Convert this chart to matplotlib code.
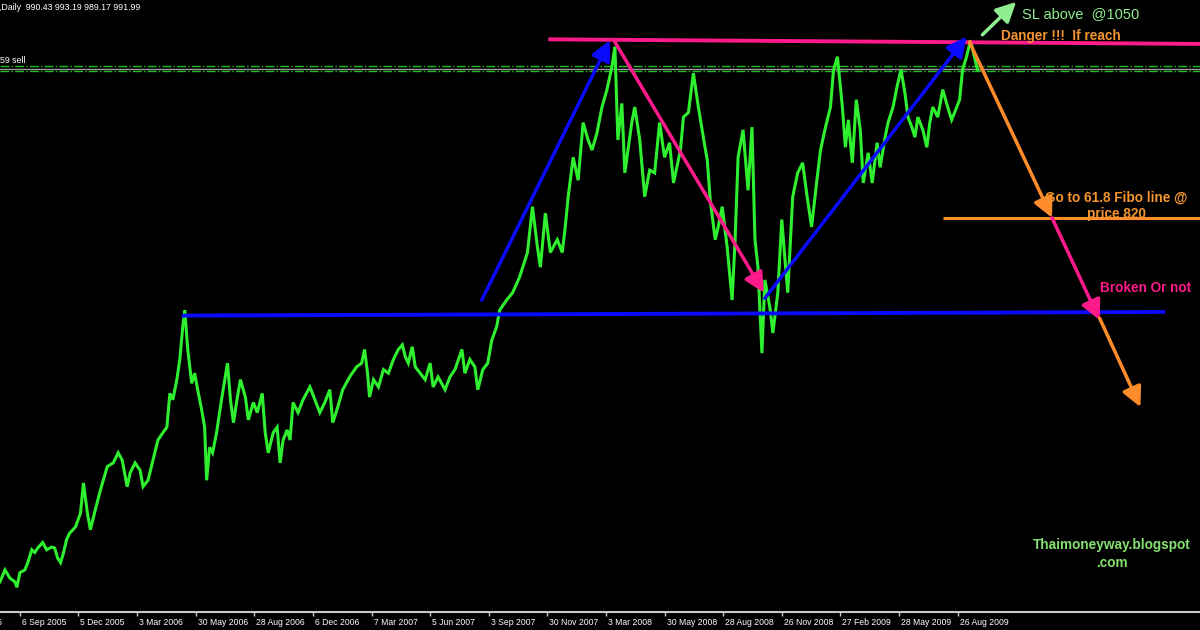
import matplotlib
matplotlib.use('Agg')
import matplotlib.pyplot as plt
import matplotlib.transforms as mtransforms

# daily bars (bar number, price)
bar_idx = [0, 5, 10, 15, 17, 20, 25, 28, 32, 35, 38, 43, 47, 52, 55, 58, 61, 64, 67, 70,
           76, 81, 84, 88, 91, 96, 101, 108, 114, 119, 123, 128, 131, 136, 141, 144, 149, 154, 159, 164,
           168, 171, 174, 178, 181, 184, 186, 189, 193, 196, 199, 203, 206, 208, 211, 214, 218, 223,
           229, 232, 235, 239, 242, 247, 250, 255, 259, 264, 267, 270, 275, 279, 282, 285, 289, 292,
           295, 300, 305, 312, 317, 322, 327, 332, 335, 340, 345, 352, 359, 364, 367, 370, 372,
           376, 381, 386, 391, 396, 401, 405, 408, 411, 415, 418, 423, 428, 433, 436, 441, 448, 453,
           458, 465, 468, 473, 478, 481, 486, 491, 495, 500, 503, 510, 516, 523,
           531, 536, 541, 544, 549, 554, 561, 566, 569, 572, 577, 582, 587, 592, 596, 601, 606, 611,
           616, 619, 622, 626, 629, 636, 639, 644, 649, 654, 659, 664, 669, 674,
           678, 685, 688, 693, 698, 703, 708, 712, 715, 720, 723, 727, 732, 737, 740, 743, 748, 753,
           757, 760, 763, 767, 770, 775, 778, 783, 787, 790, 793, 798, 803, 808, 812, 817, 822,
           826, 831, 836, 839, 843, 848, 851, 854, 858, 862, 866, 869, 874, 878, 883, 886, 891, 894,
           899, 903, 907, 911, 914, 918, 921, 924, 929, 933, 936, 939, 944, 949, 954, 958, 961, 966,
           969, 973, 977, 980, 984]
price = [434, 447, 438, 434, 428, 444, 447, 455, 469, 466, 471, 477, 469, 472, 471, 460, 455, 466, 480, 487,
         494, 509, 542, 509, 491, 513, 534, 560, 564, 575, 567, 538, 553, 564, 556, 538, 545, 567, 589, 597,
         603, 640, 633, 655, 677, 713, 731, 688, 651, 662, 644, 622, 603, 545, 581, 575, 597, 633,
         673, 633, 608, 636, 655, 636, 611, 630, 619, 640, 597, 575, 597, 603, 564, 589, 600, 589,
         630, 619, 633, 647, 633, 619, 630, 644, 608, 625, 644, 658, 669, 673, 688, 662, 636,
         655, 647, 666, 662, 677, 688, 693, 680, 673, 691, 669, 662, 655, 673, 647, 658, 644, 658,
         666, 688, 662, 677, 669, 644, 666, 673, 698, 713, 731, 742, 750, 767,
         794, 844, 800, 778, 837, 794, 808, 794, 822, 855, 898, 873, 936, 917, 906, 925, 953, 972,
         997, 1019, 917, 957, 881, 936, 953, 917, 855, 884, 881, 936, 898, 914,
         870, 906, 942, 947, 990, 953, 920, 895, 851, 808, 822, 844, 800, 742, 808, 898, 928, 862,
         931, 808, 778, 684, 764, 734, 706, 750, 830, 789, 750, 855, 881, 892, 859, 822, 870,
         906, 931, 953, 993, 1008, 953, 909, 939, 892, 961, 928, 870, 903, 870, 914, 887, 920, 936,
         953, 975, 994, 968, 942, 931, 920, 942, 928, 909, 936, 953, 942, 972, 953, 939, 947, 961,
         994, 1008, 1026, 1012, 994]

tick_labels = ['6 Sep 2005', '5 Dec 2005', '3 Mar 2006', '30 May 2006', '28 Aug 2006',
               '6 Dec 2006', '7 Mar 2007', '5 Jun 2007', '3 Sep 2007', '30 Nov 2007',
               '3 Mar 2008', '30 May 2008', '28 Aug 2008', '26 Nov 2008', '27 Feb 2009',
               '28 May 2009', '26 Aug 2009']
bars_per_label = 59
first_label_bar = 20

bid_price = 995
order_prices = [998, 992]
resist_x, resist_y = [552, 1208], [1027, 1022]
support_x, support_y = [183, 1173], [725, 729]
fibo_x, fibo_y = [949, 1208], [832, 832]

# (start bar, start price, end bar, end price, colour)
arrows = [
    (485, 742, 614, 1026, '#0a0aff'),
    (618, 1026, 769, 750, '#ff1a8c'),
    (770, 744, 973, 1030, '#0a0aff'),
    (976, 1024, 1059, 832, '#ff8c2a'),
    (1059, 832, 1107, 720, '#ff1a8c'),
    (1107, 722, 1148, 625, '#ff8c2a'),
    (989, 1032, 1023, 1068, '#8fee8f'),
]

fig = plt.figure(figsize=(12, 6.3), dpi=100, facecolor='black')
ax = fig.add_axes([0, 18 / 630, 1, 612 / 630])
ax.set_facecolor('black')
ax.set_xlim(0, 1208)
ax.set_ylim(401, 1070)

ax.plot(bar_idx, price, color='#2ef02e', lw=2.2, zorder=2, solid_joinstyle='miter')

# order / bid lines
for p in order_prices:
    ax.axhline(p, color='#22bb22', lw=1, ls='-.', zorder=1)
ax.axhline(bid_price, color='#9a9a9a', lw=1, zorder=1)

ax.plot(resist_x, resist_y, color='#ff1a8c', lw=2.8, zorder=3, solid_capstyle='butt')
ax.plot(support_x, support_y, color='#0a0aff', lw=2.8, zorder=3, solid_capstyle='butt')
ax.plot(fibo_x, fibo_y, color='#ff8c2a', lw=2.2, zorder=3, solid_capstyle='butt')

for x0, y0, x1, y1, c in arrows:
    ax.annotate('', xy=(x1, y1), xytext=(x0, y0), annotation_clip=False, zorder=4,
                arrowprops=dict(arrowstyle='-|>,head_length=1.0,head_width=0.5', color=c,
                                lw=2.5, shrinkA=0, shrinkB=0, mutation_scale=12))

ann = dict(family='Liberation Sans', fontweight='bold', zorder=5)
ax.text(1029, 1055, 'SL above  @1050', color='#8fee8f', fontsize=10.5,
        family='Liberation Sans', va='center', ha='left', zorder=5)
ax.text(1008, 1031, 'Danger !!!  If reach', color='#f39530', fontsize=9.8,
        va='center', ha='left', **ann)
ax.text(1124, 845, 'Go to 61.8 Fibo line @\nprice 820', color='#f39530', fontsize=9.8,
        va='center', ha='center', linespacing=1.25, **ann)
ax.text(1107, 755, 'Broken Or not', color='#ff1a8c', fontsize=9.8,
        va='center', ha='left', **ann)
ax.text(1119, 464, 'Thaimoneyway.blogspot\n.com', color='#84e070', fontsize=9.8,
        va='center', ha='center', linespacing=1.35, **ann)

ax.text(-1, 1062, ',Daily  990.43 993.19 989.17 991.99', color='white', fontsize=6.3,
        family='Liberation Sans', va='center', ha='left')
ax.text(0, 1004, '59 sell', color='white', fontsize=6.3,
        family='Liberation Sans', va='center', ha='left')

# time axis, MetaTrader style
for s in ['top', 'left', 'right']:
    ax.spines[s].set_visible(False)
ax.spines['bottom'].set_color('#c8c8c8')
ax.spines['bottom'].set_linewidth(1.5)
ax.set_yticks([])
ticks = [first_label_bar + bars_per_label * k for k in range(len(tick_labels))]
ax.set_xticks(ticks)
ax.set_xticklabels(tick_labels, fontsize=6.2, family='Liberation Sans', color='white')
ax.tick_params(axis='x', colors='#c8c8c8', length=3, width=1, pad=1, labelcolor='white')
shift = mtransforms.ScaledTranslation(2 / 100, 0, fig.dpi_scale_trans)
for lab in ax.get_xticklabels():
    lab.set_horizontalalignment('left')
    lab.set_transform(lab.get_transform() + shift)
# previous label, mostly cut off at the left edge as in the original screenshot
ax.annotate('7 Jun 2005', xy=(first_label_bar - bars_per_label, 0),
            xycoords=('data', 'axes fraction'), xytext=(-1.5, -4), textcoords='offset points',
            fontsize=6.2, family='Liberation Sans', color='white', va='top', ha='left',
            annotation_clip=False)

fig.savefig('out.png', dpi=100, facecolor='black')
